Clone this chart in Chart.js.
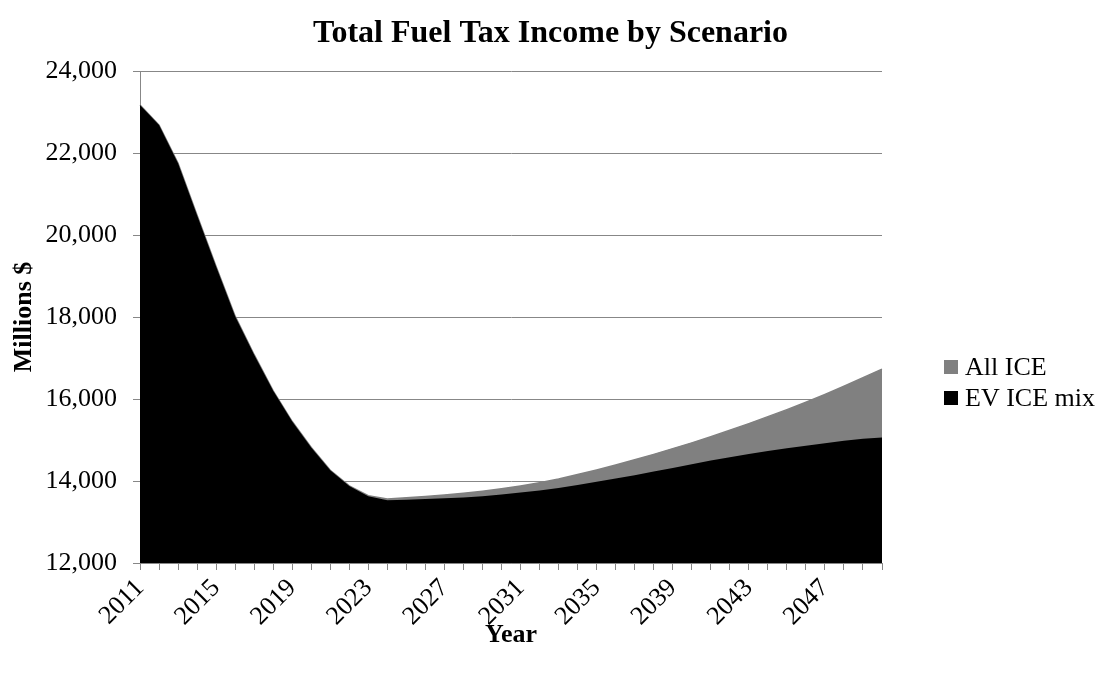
<!DOCTYPE html>
<html>
<head>
<meta charset="utf-8">
<title>Total Fuel Tax Income by Scenario</title>
<script src="https://cdn.jsdelivr.net/npm/chart.js@4.4.1/dist/chart.umd.min.js"></script>
<style>
  html, body { margin: 0; padding: 0; background: #ffffff; }
  #wrap { position: relative; width: 1101px; height: 675px; }
</style>
</head>
<body>
<div id="wrap"><canvas id="chart" width="1101" height="675"></canvas></div>
<script>
// Years on the category axis
const years = [
  2011, 2012, 2013, 2014, 2015, 2016, 2017, 2018, 2019, 2020,
  2021, 2022, 2023, 2024, 2025, 2026, 2027, 2028, 2029, 2030,
  2031, 2032, 2033, 2034, 2035, 2036, 2037, 2038, 2039, 2040,
  2041, 2042, 2043, 2044, 2045, 2046, 2047, 2048, 2049, 2050
];

// Total fuel tax income, millions of dollars
const allIce = [
  23170, 22680, 21750, 20480, 19230, 18020, 17080, 16200, 15450, 14820,
  14260, 13880, 13640, 13560, 13590, 13620, 13660, 13700, 13750, 13810,
  13880, 13960, 14050, 14160, 14270, 14390, 14520, 14650, 14790, 14930,
  15080, 15240, 15400, 15570, 15740, 15920, 16110, 16310, 16520, 16730
];

const evIceMix = [
  23170, 22680, 21750, 20480, 19230, 18020, 17080, 16200, 15450, 14820,
  14260, 13880, 13630, 13530, 13540, 13560, 13580, 13600, 13630, 13670,
  13720, 13770, 13830, 13900, 13980, 14060, 14140, 14230, 14320, 14410,
  14500, 14580, 14660, 14730, 14800, 14860, 14920, 14980, 15030, 15060
];

// Value axis
const yMin = 12000;
const yMax = 24000;
const yStep = 2000;

// Labelled years: every fourth year from the first
const labelEvery = 4;

const chartTitle = 'Total Fuel Tax Income by Scenario';
const xTitle = 'Year';
const yTitle = 'Millions $';

const serif = '"Liberation Serif", "Times New Roman", Times, serif';
const axisGrey = '#878787';

// Title and legend drawn on the canvas around the plot
const decorations = {
  id: 'decorations',
  afterDraw(chart) {
    const ctx = chart.ctx;
    ctx.save();
    ctx.fillStyle = '#000000';
    ctx.textAlign = 'center';
    ctx.textBaseline = 'middle';
    ctx.font = 'bold 32px ' + serif;
    ctx.fillText(chartTitle, chart.width / 2, 34);

    // legend: one row per dataset, in dataset order
    const boxX = 944;
    const box = 14;
    const rows = [367, 398];
    ctx.font = '26px ' + serif;
    ctx.textAlign = 'left';
    chart.data.datasets.forEach((ds, i) => {
      const cy = rows[i];
      ctx.fillStyle = ds.backgroundColor;
      ctx.fillRect(boxX, cy - box / 2, box, box);
      ctx.fillStyle = '#000000';
      ctx.fillText(ds.label, boxX + box + 7, cy + 1);
    });
    ctx.restore();
  }
};

new Chart(document.getElementById('chart'), {
  type: 'line',
  data: {
    labels: years,
    datasets: [
      {
        label: 'All ICE',
        data: allIce,
        order: 2,
        backgroundColor: '#808080',
        borderColor: '#808080',
        borderWidth: 1.5,
        fill: 'start',
        pointRadius: 0,
        tension: 0
      },
      {
        label: 'EV ICE mix',
        data: evIceMix,
        order: 1,
        backgroundColor: '#000000',
        borderColor: '#000000',
        borderWidth: 0,
        fill: 'start',
        pointRadius: 0,
        tension: 0
      }
    ]
  },
  options: {
    responsive: false,
    animation: false,
    devicePixelRatio: 1,
    layout: { padding: { left: 0, right: 219, top: 71, bottom: 0 } },
    plugins: {
      legend: { display: false },
      title: { display: false },
      tooltip: { enabled: false }
    },
    scales: {
      x: {
        type: 'category',
        offset: false,
        grid: {
          display: true,
          drawOnChartArea: false,
          drawTicks: true,
          tickLength: 7,
          color: axisGrey,
          lineWidth: 1
        },
        border: { display: true, color: axisGrey, width: 1 },
        ticks: {
          autoSkip: false,
          minRotation: 45,
          maxRotation: 45,
          padding: 3,
          color: '#000000',
          font: { family: serif, size: 26 },
          callback: function (value, index) {
            return index % labelEvery === 0 ? String(years[index]) : '';
          }
        },
        title: {
          display: true,
          text: xTitle,
          color: '#000000',
          font: { family: serif, size: 26, weight: 'bold' },
          padding: { top: 0, bottom: 24 }
        },
        afterFit(scale) { scale.height = 112; }
      },
      y: {
        min: yMin,
        max: yMax,
        grid: {
          color: axisGrey,
          lineWidth: 1,
          tickLength: 7,
          drawTicks: true
        },
        border: { display: true, color: axisGrey, width: 1 },
        ticks: {
          stepSize: yStep,
          padding: 16,
          color: '#000000',
          font: { family: serif, size: 26 },
          callback: function (value) { return value.toLocaleString('en-US'); }
        },
        title: {
          display: true,
          text: yTitle,
          color: '#000000',
          font: { family: serif, size: 26, weight: 'bold' },
          padding: { top: 9, bottom: 0 }
        },
        afterFit(scale) { scale.width = 140; }
      }
    }
  },
  plugins: [decorations]
});
</script>
</body>
</html>
